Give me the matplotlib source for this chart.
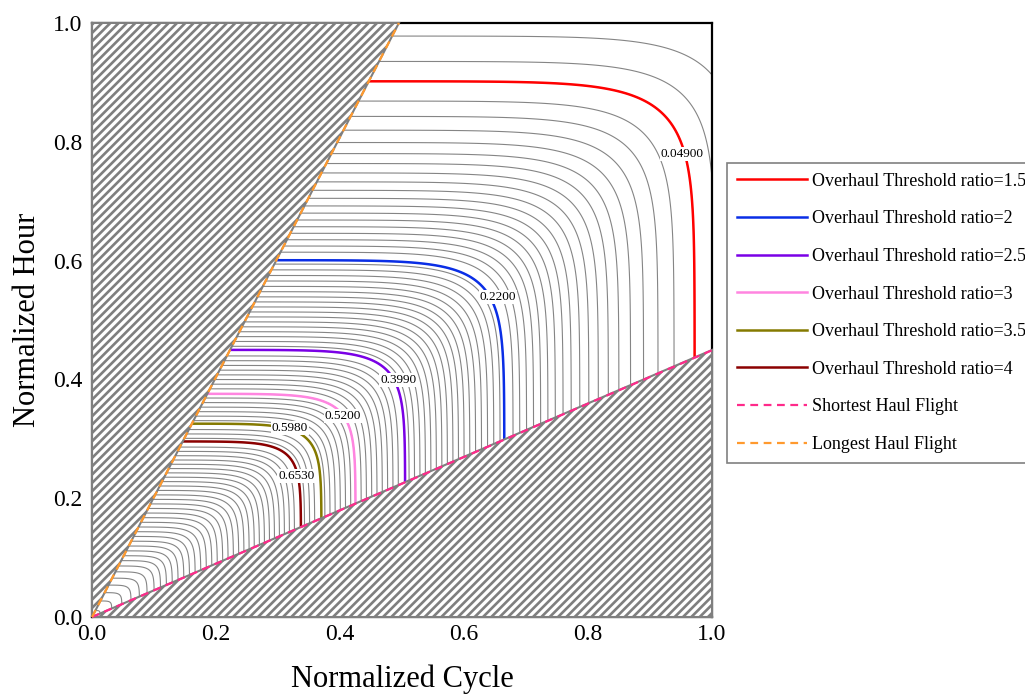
import numpy as np
import matplotlib
matplotlib.use('Agg')
import matplotlib.pyplot as plt
from matplotlib.patches import Polygon
from matplotlib.lines import Line2D

""" =======================  Data read off the chart ========================== """

# highlighted contours (overhaul threshold ratio -> contour value)
ratios = [1.5, 2, 2.5, 3, 3.5, 4]
ratio_levels = [0.049, 0.22, 0.399, 0.52, 0.598, 0.653]
# x extent of each highlighted contour (where it meets the shortest haul line)
ratio_extent = [0.972, 0.665, 0.505, 0.425, 0.370, 0.337]
ratio_colors = ['#ff0000', '#0a2ee6', '#7a00e6', '#ff85e0', '#857a00', '#8b0000']
label_pos = [(0.952, 0.779), (0.655, 0.539), (0.494, 0.399),
             (0.405, 0.338), (0.319, 0.318), (0.330, 0.238)]

# haul flight boundary lines (cycle, hour)
longest_haul = [(0.0, 0.0), (0.495, 1.0)]
shortest_haul = [(0.0, 0.0), (1.0, 0.449)]

# gap between neighbouring background contours, read at a few contour sizes
gap_at = [0.0, 0.05, 0.12, 0.30, 0.60, 0.75, 0.85, 0.95, 1.0, 1.05]
gap_val = [0.024, 0.016, 0.0095, 0.008, 0.009, 0.012, 0.017, 0.027, 0.041, 0.052]

""" =======================  Contour field ========================== """

gx = np.linspace(0, 1.06, 700)
gy = np.linspace(0, 1.06, 700)
X, Y = np.meshgrid(gx, gy)

# rounded-square contour size, hour axis slightly compressed
lo = np.full_like(X, 1e-4)
hi = np.full_like(X, 3.0)
with np.errstate(over='ignore', divide='ignore'):
    for i in range(45):
        mid = 0.5 * (lo + hi)
        p = 8.0 + 4.0 * mid
        q = 0.85 + 0.08 * mid
        g = (X / mid) ** p + (Y / (mid * q)) ** p
        big = g > 1
        lo = np.where(big, mid, lo)
        hi = np.where(big, hi, mid)
R = 0.5 * (lo + hi)

# background contour sizes, stepping out from the red one
gray_r = []
r = ratio_extent[0]
while r > 0.005:
    gray_r.append(r)
    r -= np.interp(r, gap_at, gap_val)
r = ratio_extent[0]
while r < 1.2:
    r += np.interp(r, gap_at, gap_val)
    gray_r.append(r)
# background lines that nearly touch a coloured one hide under it
for i, r in enumerate(gray_r):
    for e in ratio_extent:
        if abs(r - e) < 0.45 * np.interp(e, gap_at, gap_val):
            gray_r[i] = e
gray_r = sorted(set(gray_r))

""" =======================  Plot ========================== """

plt.rcParams['font.family'] = 'Liberation Serif'
plt.rcParams['hatch.linewidth'] = 1.9
plt.rcParams['hatch.color'] = '#7f7f7f'

fig = plt.figure(figsize=(10.25, 6.96), dpi=100)
ax = fig.add_axes([0.0898, 0.1135, 0.6048, 0.8535])

ax.contour(X, Y, R, levels=gray_r, colors='#858585', linewidths=0.8, zorder=1)
order = np.argsort(ratio_extent)
ax.contour(X, Y, R, levels=[ratio_extent[i] for i in order],
           colors=[ratio_colors[i] for i in order], linewidths=1.8, zorder=2)
for (lx, ly), v in zip(label_pos, ratio_levels):
    ax.text(lx, ly, '%#.4g' % v, ha='center', va='center', fontsize=9.5, zorder=2.5,
            bbox=dict(fc='white', ec='none', pad=0.8))

# excluded regions
up = Polygon([longest_haul[0], longest_haul[1], (0, 1)], closed=True,
             facecolor='white', edgecolor='#7f7f7f', hatch='////', lw=1.5,
             zorder=3, clip_on=False)
low = Polygon([shortest_haul[0], (1, 0), shortest_haul[1]], closed=True,
              facecolor='white', edgecolor='#7f7f7f', hatch='////', lw=1.5,
              zorder=3, clip_on=False)
ax.add_patch(up)
ax.add_patch(low)

ax.plot(*zip(*shortest_haul), ls=(0, (3.5, 2.5)), color='#ff2a8a', lw=1.6,
        zorder=4, clip_on=False)
ax.plot(*zip(*longest_haul), ls=(0, (3.5, 2.5)), color='#ff9a2e', lw=1.6,
        zorder=4, clip_on=False)

ax.set_xlim(0, 1)
ax.set_ylim(0, 1)
ax.set_xticks([0, 0.2, 0.4, 0.6, 0.8, 1.0])
ax.set_yticks([0, 0.2, 0.4, 0.6, 0.8, 1.0])
ax.xaxis.set_major_formatter(plt.FormatStrFormatter('%.1f'))
ax.yaxis.set_major_formatter(plt.FormatStrFormatter('%.1f'))
ax.tick_params(length=0, labelsize=17)
ax.tick_params(axis='x', pad=5)
ax.tick_params(axis='y', pad=7)
for s in ax.spines.values():
    s.set_linewidth(1.6)
    s.set_color('black')

ax.set_xlabel('Normalized Cycle', fontsize=22, labelpad=14)
ax.set_ylabel('Normalized Hour', fontsize=22, labelpad=8)

handles = [Line2D([], [], color=col, lw=1.8) for col in ratio_colors]
labels = ['Overhaul Threshold ratio=%g' % r for r in ratios]
handles.append(Line2D([], [], color='#ff2a8a', lw=1.6, ls=(0, (3.5, 2.5))))
labels.append('Shortest Haul Flight')
handles.append(Line2D([], [], color='#ff9a2e', lw=1.6, ls=(0, (3.5, 2.5))))
labels.append('Longest Haul Flight')

leg = fig.legend(handles, labels, loc='upper left', bbox_to_anchor=(0.709, 0.766),
                 fontsize=13, handlelength=3.9, handletextpad=0.3,
                 labelspacing=1.14, borderpad=0.55, borderaxespad=0,
                 fancybox=False, edgecolor='#808080', framealpha=1)
leg.get_frame().set_linewidth(1.2)

fig.savefig('out.png', dpi=100)
